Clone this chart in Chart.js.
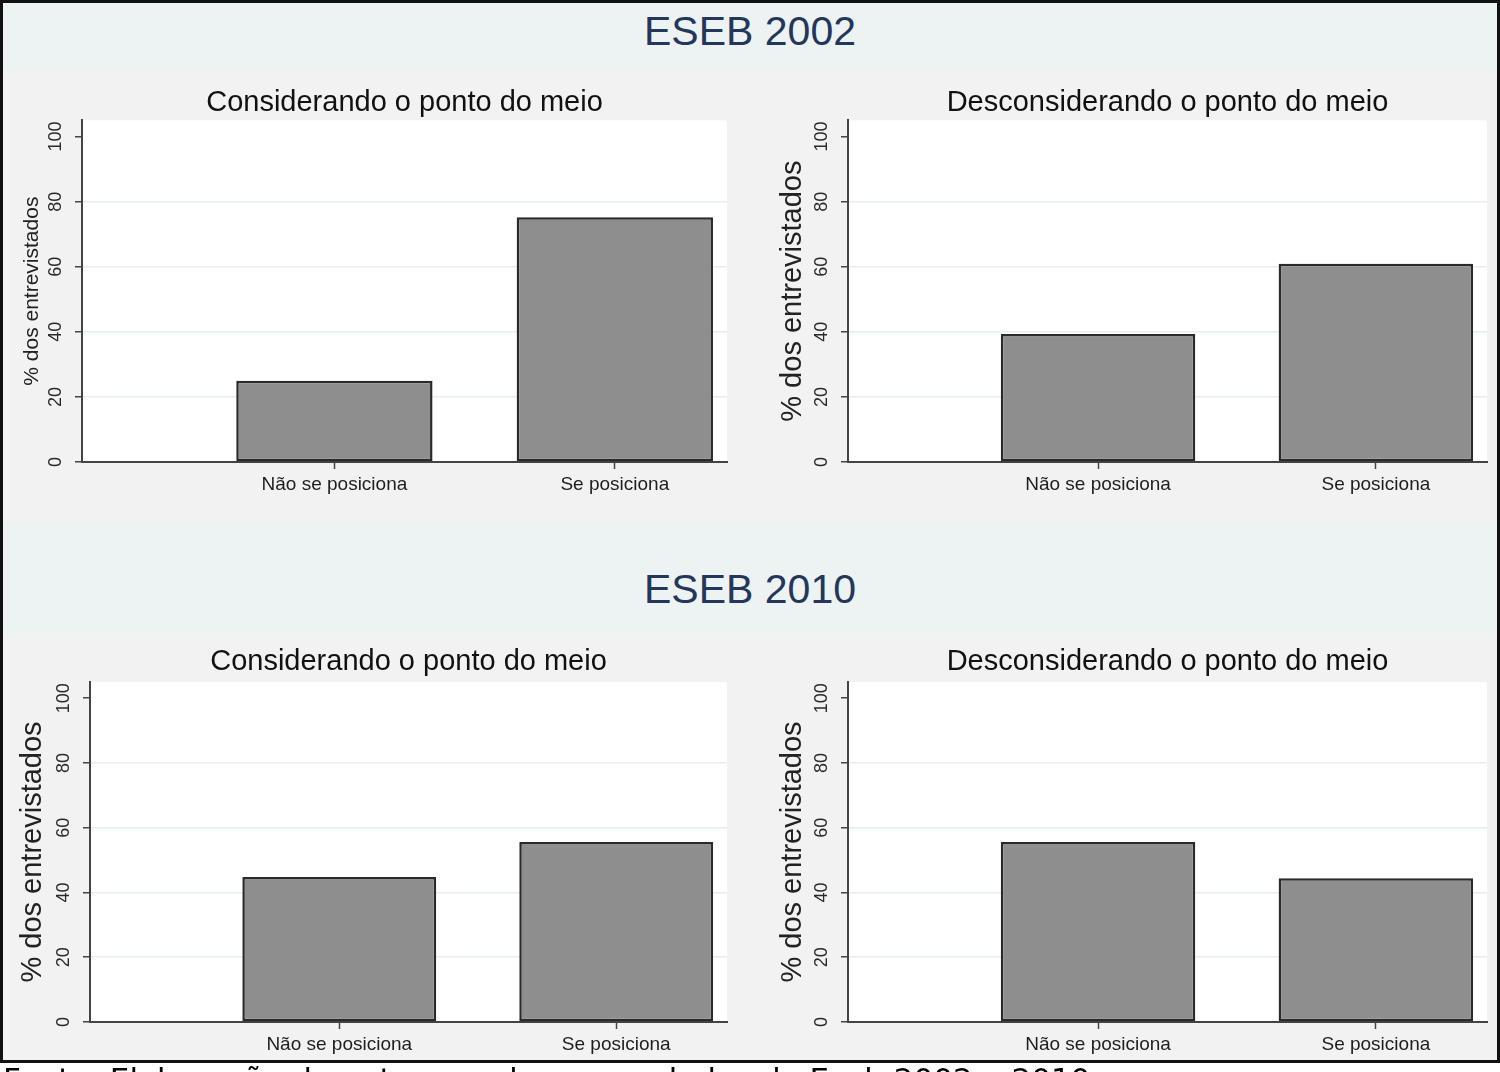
<!DOCTYPE html>
<html>
<head>
<meta charset="utf-8">
<script src="https://cdn.jsdelivr.net/npm/chart.js@4"></script>
<style>
html,body{margin:0;padding:0;background:#fff;width:1500px;height:1072px;overflow:hidden;position:relative;}
#frame{position:absolute;left:0;top:0;width:1500px;height:1063px;box-sizing:border-box;border:3px solid #111;background:#f2f2f2;overflow:hidden;}
.band{position:absolute;left:0;right:0;background:#edf3f3;}
.head{position:absolute;left:0;width:1500px;text-align:center;font-family:"Liberation Sans",Arial,sans-serif;font-size:41px;line-height:41px;color:#24375a;}
canvas{position:absolute;}
#caption{position:absolute;left:3px;top:1064px;font-family:"DejaVu Sans",sans-serif;font-size:31px;line-height:31px;color:#000;white-space:nowrap;}
</style>
</head>
<body>
<div id="frame">
  <div class="band" style="top:0;height:69px;"></div>
  <div class="band" style="top:519px;height:112px;"></div>
</div>
<div class="head" style="top:11px;">ESEB 2002</div>
<div class="head" style="top:569px;">ESEB 2010</div>
<canvas id="c1" width="745" height="437" style="left:0;top:75px;"></canvas>
<canvas id="c2" width="740" height="437" style="left:760px;top:75px;"></canvas>
<canvas id="c3" width="745" height="436" style="left:0;top:636px;"></canvas>
<canvas id="c4" width="740" height="436" style="left:760px;top:636px;"></canvas>
<div id="caption">Fonte: Elaboração do autor com base nos dados do Eseb 2002 e 2010.</div>
<script>
// ---- data ----
const categories = ['Não se posiciona', 'Se posiciona'];
const eseb2002Considerando = [25.0, 75.2];
const eseb2002Desconsiderando = [39.3, 60.9];
const eseb2010Considerando = [44.8, 55.6];
const eseb2010Desconsiderando = [55.6, 44.4];
const yTickValues = [0, 20, 40, 60, 80, 100];
const titleCom = 'Considerando o ponto do meio';
const titleSem = 'Desconsiderando o ponto do meio';
const yAxisTitle = '% dos entrevistados';

const FONT = '"Liberation Sans", Arial, Helvetica, sans-serif';

const whiteArea = {
  id: 'whiteArea',
  beforeDraw(chart) {
    const a = chart.chartArea, ctx = chart.ctx;
    ctx.save();
    ctx.fillStyle = '#ffffff';
    ctx.fillRect(a.left, a.top, a.right - a.left, a.bottom - a.top);
    ctx.restore();
  }
};
const rotatedYTicks = {
  id: 'rotatedYTicks',
  afterDraw(chart) {
    const s = chart.scales.y, ctx = chart.ctx;
    ctx.save();
    ctx.fillStyle = '#2a2a2a';
    ctx.font = '18px ' + FONT;
    ctx.textAlign = 'center';
    ctx.textBaseline = 'middle';
    s.ticks.forEach(t => {
      const y = s.getPixelForValue(t.value);
      ctx.save();
      ctx.translate(s.right - 26, y);
      ctx.rotate(-Math.PI / 2);
      ctx.fillText(String(t.value), 0, 0);
      ctx.restore();
    });
    ctx.restore();
  }
};

function makePanel(id, values, title, cfg) {
  new Chart(document.getElementById(id), {
    type: 'bar',
    data: {
      datasets: [{
        data: values.map((v, i) => ({ x: i + 1, y: v })),
        backgroundColor: '#8e8e8e',
        borderColor: '#2a2a2a',
        borderWidth: 2.5,
        borderSkipped: false,
        categoryPercentage: 1,
        barPercentage: 0.7
      }]
    },
    plugins: [whiteArea, rotatedYTicks],
    options: {
      responsive: false,
      animation: false,
      events: [],
      layout: { padding: { left: 0, right: cfg.padRight, top: 0, bottom: 0 } },
      plugins: {
        legend: { display: false },
        tooltip: { enabled: false },
        title: {
          display: true,
          text: title,
          fullSize: false,
          color: '#111',
          font: { family: FONT, size: 29, weight: 'normal' },
          padding: { top: cfg.titleTop, bottom: cfg.titleBottom }
        }
      },
      scales: {
        x: {
          type: 'linear',
          min: 0.1,
          max: 2.4,
          offset: false,
          afterBuildTicks: s => { s.ticks = categories.map((c, i) => ({ value: i + 1 })); },
          afterFit: s => { s.height = 50; },
          ticks: {
            autoSkip: false, maxRotation: 0, minRotation: 0,
            padding: 4,
            color: '#1e1e1e',
            font: { family: FONT, size: 19 },
            callback: v => categories[v - 1]
          },
          grid: { offset: false, drawOnChartArea: false, tickLength: 7, tickColor: '#444', tickWidth: 1.5 },
          border: { display: true, color: '#444', width: 2 }
        },
        y: {
          min: 0,
          max: 105,
          afterBuildTicks: s => { s.ticks = yTickValues.map(v => ({ value: v })); },
          afterFit: s => { s.width = cfg.yWidth; },
          ticks: { display: false },
          title: {
            display: true,
            text: yAxisTitle,
            color: '#222',
            font: { family: FONT, size: cfg.yTitleSize },
            padding: { top: cfg.yTitlePad, bottom: 0 }
          },
          grid: {
            color: c => (c.tick && c.tick.value > 0 && c.tick.value < 100) ? '#e6eeee' : 'rgba(0,0,0,0)',
            lineWidth: 1.5,
            tickLength: 7,
            tickColor: '#444',
            tickWidth: 1.5
          },
          border: { display: true, color: '#444', width: 2 }
        }
      }
    }
  });
}

makePanel('c1', eseb2002Considerando, titleCom,
  { yWidth: 82, padRight: 18, titleTop: 10.5, titleBottom: 0, yTitleSize: 21, yTitlePad: 20 });
makePanel('c2', eseb2002Desconsiderando, titleSem,
  { yWidth: 88, padRight: 13, titleTop: 10.5, titleBottom: 0, yTitleSize: 29, yTitlePad: 16 });
makePanel('c3', eseb2010Considerando, titleCom,
  { yWidth: 90, padRight: 18, titleTop: 8.6, titleBottom: 2.6, yTitleSize: 29, yTitlePad: 16 });
makePanel('c4', eseb2010Desconsiderando, titleSem,
  { yWidth: 88, padRight: 13, titleTop: 8.6, titleBottom: 2.6, yTitleSize: 29, yTitlePad: 16 });
</script>
</body>
</html>
